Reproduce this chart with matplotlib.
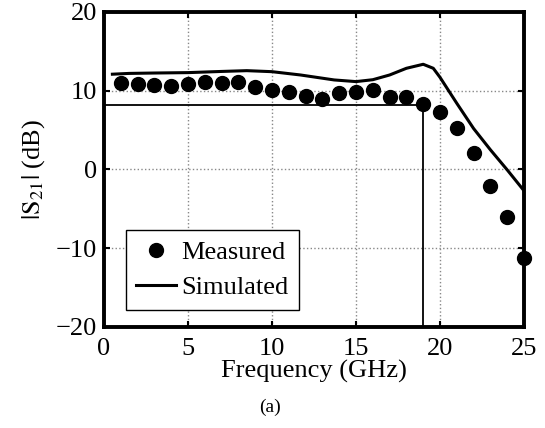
import matplotlib.pyplot as plt

plt.rcParams['font.family'] = ['Liberation Serif', 'DejaVu Serif']
plt.rcParams['mathtext.fontset'] = 'stix'

# measured S21 (dB) at 1 GHz steps
meas_f = [1, 2, 3, 4, 5, 6, 7, 8, 9, 10, 11, 12, 13, 14, 15, 16, 17, 18, 19, 20, 21, 22, 23, 24, 25]
meas_db = [11.0, 10.9, 10.7, 10.6, 10.9, 11.1, 11.0, 11.15, 10.5, 10.1, 9.9, 9.3, 8.95, 9.75, 9.9,
           10.1, 9.25, 9.25, 8.3, 7.3, 5.3, 2.1, -2.1, -6.0, -11.2]

# simulated curve
sim_f = [0.5, 1.5, 3, 5, 7, 8.5, 10, 11.7, 13.7, 15, 16, 17, 18, 19, 19.6, 20, 21, 22, 23, 24, 25]
sim_db = [12.1, 12.2, 12.25, 12.3, 12.45, 12.55, 12.42, 12.0, 11.37, 11.16, 11.4, 12.0, 12.85,
          13.36, 12.85, 11.7, 8.4, 5.2, 2.5, -0.05, -2.7]

# gain/bandwidth marker lines
mark_f = [0, 19, 19]
mark_db = [8.15, 8.15, -20]

fig = plt.figure(figsize=(5.45, 4.28), dpi=100)
ax = fig.add_axes([0.1908, 0.236, 0.7707, 0.736])

ax.plot(meas_f, meas_db, 'o', color='k', markersize=10, label='Measured', zorder=4, clip_on=False)
ax.plot(sim_f, sim_db, '-', color='k', linewidth=2.2, label='Simulated', zorder=3)
ax.plot(mark_f, mark_db, '-', color='k', linewidth=1.3, zorder=3)

ax.set_xlim(0, 25)
ax.set_ylim(-20, 20)
ax.set_xticks([0, 5, 10, 15, 20, 25])
ax.set_yticks([-20, -10, 0, 10, 20])
ax.set_yticklabels(['\u221220', '\u221210', '0', '10', '20'])
ax.grid(True, linestyle=':', color='#888888', linewidth=1.0)
ax.tick_params(direction='in', length=4, width=1.5, labelsize=19, top=True, right=True)
ax.tick_params(axis='x', pad=8)
ax.tick_params(axis='y', pad=5)
for s in ax.spines.values():
    s.set_linewidth(2.8)

ax.set_xlabel('Frequency (GHz)', fontsize=19, labelpad=0)
ax.set_ylabel(r'$|\mathrm{S}_{21}|$ (dB)', fontsize=19, labelpad=6)

leg = ax.legend(loc='lower left', bbox_to_anchor=(0.052, 0.054), borderaxespad=0, fontsize=19,
                fancybox=False, framealpha=1, edgecolor='k', handlelength=1.5, handletextpad=0.2,
                borderpad=0.4, labelspacing=0.45)
leg.get_frame().set_linewidth(1.0)

fig.text(0.496, 0.037, '(a)', ha='center', fontsize=14)

fig.savefig('out.png', dpi=100)
